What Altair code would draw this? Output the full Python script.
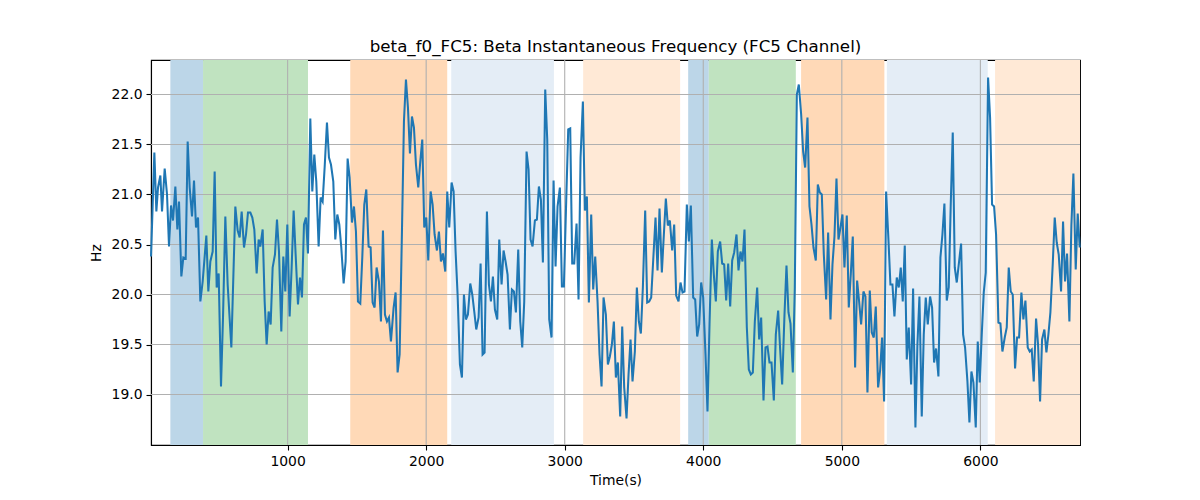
import altair as alt
import pandas as pd

# ---- line series (time in s, frequency in Hz) ----
t1 = [14.2, 38.2, 52.7, 64.7, 81.5, 93.6, 112.8, 129.6, 144.1, 158.5, 172.9, 189.8, 204.2, 216.2, 233.0,
      247.5, 264.3, 278.7, 293.2, 310.0, 324.4, 338.9, 353.3, 370.1, 387.0, 413.4, 427.8, 442.3, 459.1, 473.5,
      488.0, 502.4, 519.2, 533.7, 550.5, 567.3, 593.8, 622.7, 639.5, 653.9, 668.4, 685.2, 699.6, 714.0, 730.9,
      745.3, 759.7, 776.6, 791.0, 803.0, 819.9, 834.3]
v1 = [20.38, 21.42, 20.83, 21.07, 21.19, 20.83, 21.26, 21.0, 20.48, 20.89, 20.74, 21.08, 20.65, 20.93, 20.18,
      20.37, 20.36, 21.53, 21.07, 20.78, 21.14, 20.67, 20.77, 19.93, 20.13, 20.59, 20.03, 20.33, 20.43, 21.23,
      20.07, 20.21, 19.08, 19.77, 20.78, 20.1, 19.47, 20.88, 20.64, 20.57, 20.83, 20.47, 20.6, 20.82, 20.82,
      20.77, 20.65, 20.21, 20.55, 20.48, 20.65, 19.93]

t2 = [848.7, 863.1, 877.6, 892.0, 908.8, 923.3, 937.7, 954.5, 969.0, 983.4, 997.8, 1014.6, 1029.1, 1043.5, 1057.9,
      1074.8, 1089.2, 1103.6, 1118.1, 1132.5, 1146.9, 1163.8, 1178.2, 1192.6, 1207.0, 1223.9, 1238.3, 1252.7,
      1267.2, 1284.0, 1298.4, 1312.9, 1329.7, 1344.1, 1358.6, 1373.0, 1387.4, 1404.3, 1418.7, 1433.1, 1447.5,
      1464.4, 1478.8, 1493.2, 1507.7, 1524.5, 1538.9, 1553.4, 1567.8, 1584.6, 1599.1, 1613.5, 1627.9, 1642.3, 1659.2]
v2 = [19.5, 19.83, 19.7, 20.27, 20.4, 20.75, 20.43, 19.63, 20.38, 20.03, 20.7, 19.78, 20.27, 20.84, 20.4,
      19.9, 20.17, 19.97, 20.7, 20.77, 20.41, 21.76, 21.03, 21.4, 21.13, 20.48, 20.97, 20.93, 21.27, 21.72,
      21.37, 21.3, 21.13, 20.55, 20.8, 20.7, 20.47, 20.11, 20.33, 21.36, 21.17, 20.72, 20.88, 20.63, 19.93,
      19.91, 20.37, 20.9, 21.05, 20.48, 20.47, 19.92, 19.87, 20.27, 20.13]

t3 = [1673.7, 1688.1, 1702.5, 1717.0, 1731.4, 1745.8, 1765.1, 1779.5, 1793.9, 1808.4, 1825.2, 1839.6, 1854.1,
      1868.5, 1882.9, 1897.4, 1911.8, 1926.2, 1943.0, 1957.5, 1971.9, 1986.3, 2000.8, 2015.2, 2032.0, 2046.5,
      2060.9, 2077.7, 2092.2, 2106.6, 2121.0, 2137.9, 2152.3, 2166.7, 2183.5, 2198.0, 2212.4, 2226.8, 2243.7,
      2258.1, 2272.5, 2287.0, 2301.4, 2318.2, 2332.7, 2347.1, 2361.5, 2378.4, 2392.8, 2407.2, 2421.6, 2438.5,
      2452.9, 2467.3, 2481.8]
v3 = [19.73, 20.64, 19.8, 19.73, 19.77, 19.53, 19.87, 20.02, 19.22, 19.4, 20.63, 21.73, 22.15, 21.87, 21.41,
      21.78, 21.67, 21.3, 21.07, 21.33, 21.55, 20.67, 20.77, 20.34, 21.03, 20.9, 20.6, 20.44, 20.63, 20.33,
      20.41, 20.23, 21.03, 20.67, 21.12, 21.03, 20.43, 20.0, 19.3, 19.17, 20.0, 19.75, 19.8, 20.11, 20.0,
      19.83, 19.65, 19.77, 20.31, 19.4, 19.42, 20.83, 20.1, 19.93, 20.18]

t4 = [2496.2, 2513.0, 2527.4, 2544.3, 2558.7, 2573.1, 2587.6, 2604.4, 2618.8, 2633.3, 2647.7, 2664.5, 2679.0,
      2693.4, 2707.8, 2724.6, 2739.1, 2753.5, 2767.9, 2784.8, 2799.2, 2813.6, 2828.1, 2842.5, 2859.3, 2873.8,
      2888.2, 2905.0, 2919.5, 2933.9, 2948.3, 2965.1, 2979.6, 2994.0, 3010.8, 3025.3, 3039.7, 3054.1, 3068.6,
      3085.4, 3099.8, 3114.3, 3131.1, 3145.5, 3159.9, 3174.4, 3191.2, 3205.6, 3220.1, 3236.9, 3251.3, 3265.8,
      3280.2, 3297.0, 3311.5]
v4 = [19.85, 19.75, 20.55, 20.1, 20.44, 20.33, 20.2, 19.65, 20.05, 20.03, 19.82, 20.45, 19.73, 19.47, 19.93,
      21.43, 21.25, 20.55, 20.48, 20.74, 20.75, 21.08, 20.95, 20.32, 22.05, 21.55, 19.75, 19.57, 21.14, 20.28,
      20.88, 21.07, 20.08, 20.08, 20.94, 21.65, 21.66, 20.31, 20.31, 20.71, 19.95, 21.37, 21.93, 20.84, 20.98,
      19.92, 20.8, 20.05, 20.38, 19.93, 19.4, 19.08, 19.97, 19.8, 19.3]

t5 = [3325.9, 3340.3, 3354.7, 3369.2, 3383.6, 3400.4, 3414.9, 3429.3, 3446.1, 3460.6, 3475.0, 3489.4, 3506.2,
      3520.7, 3535.1, 3549.5, 3564.0, 3580.8, 3595.2, 3609.7, 3624.1, 3640.9, 3655.4, 3669.8, 3684.2, 3701.0,
      3715.5, 3729.9, 3744.3, 3758.8, 3775.6, 3790.0, 3804.5, 3821.3, 3835.7, 3850.2, 3864.6, 3881.4, 3895.9,
      3910.3, 3927.1, 3941.6, 3956.0, 3970.4, 3984.8, 3999.3, 4016.1, 4030.5, 4045.0, 4061.8, 4076.2, 4090.7,
      4105.1, 4121.9, 4136.4, 4150.8]
v5 = [19.38, 19.5, 19.73, 19.17, 19.32, 18.78, 19.68, 19.07, 18.76, 19.2, 19.55, 19.13, 19.43, 20.07, 19.73,
      19.61, 20.07, 20.84, 19.92, 19.93, 19.97, 20.4, 20.77, 20.24, 20.86, 20.22, 20.6, 20.96, 20.69, 20.74,
      20.44, 20.7, 19.99, 19.93, 20.12, 20.02, 20.03, 20.9, 20.53, 20.89, 19.97, 19.95, 19.58, 19.7, 20.12,
      19.97, 19.4, 18.83, 19.7, 20.55, 20.2, 19.93, 20.43, 20.53, 20.31, 20.3]

t6 = [4165.3, 4179.7, 4194.2, 4208.6, 4223.0, 4239.8, 4254.3, 4268.7, 4283.1, 4297.6, 4314.4, 4328.8, 4343.3,
      4357.7, 4372.1, 4389.0, 4403.4, 4417.8, 4434.7, 4449.1, 4463.5, 4477.9, 4492.4, 4509.2, 4523.6, 4540.5,
      4554.9, 4569.3, 4586.2, 4600.6, 4615.0, 4629.5, 4646.3, 4660.7, 4675.2, 4689.6, 4706.4, 4720.8, 4735.3,
      4752.1, 4766.5, 4781.0, 4795.4, 4812.2, 4826.7, 4841.1, 4855.5, 4870.0, 4886.8, 4901.2, 4918.1, 4932.5,
      4946.9, 4961.4, 4975.8]
v6 = [19.94, 20.31, 19.88, 20.34, 20.42, 20.6, 20.24, 20.43, 20.33, 20.65, 19.67, 19.25, 19.2, 19.22, 19.73,
      20.07, 19.55, 19.77, 18.94, 19.47, 19.48, 19.32, 19.32, 18.94, 19.6, 19.84, 19.45, 19.1, 19.8, 20.29,
      19.82, 19.71, 19.22, 20.07, 22.0, 22.1, 21.8, 21.43, 21.27, 21.77, 20.88, 20.7, 20.47, 20.34, 21.1,
      21.02, 21.0, 20.4, 19.95, 20.62, 19.75, 20.3, 20.58, 21.16, 20.55]

t7 = [4990.1, 5004.5, 5018.9, 5035.8, 5050.2, 5064.6, 5079.1, 5095.9, 5110.3, 5124.8, 5139.2, 5156.0, 5170.5,
      5184.9, 5201.7, 5216.2, 5230.6, 5245.0, 5261.9, 5276.3, 5290.7, 5305.1, 5319.6, 5336.4, 5350.8, 5365.3,
      5379.7, 5396.5, 5411.0, 5425.4, 5439.8, 5454.3, 5468.7, 5483.1, 5500.0, 5514.4, 5531.2, 5545.6, 5560.1,
      5576.9, 5591.3, 5605.8, 5620.2, 5637.0, 5651.5, 5665.9, 5680.3, 5697.2, 5711.6, 5726.0, 5740.4, 5757.3,
      5771.7, 5786.1, 5800.6]
v7 = [20.67, 20.8, 20.27, 20.79, 19.87, 20.2, 20.58, 19.27, 20.14, 19.93, 19.7, 20.03, 19.98, 19.02, 20.04,
      19.62, 19.57, 19.88, 19.07, 19.24, 19.57, 18.93, 21.03, 20.55, 20.1, 20.1, 19.78, 20.17, 20.07, 20.27,
      19.93, 20.49, 19.35, 19.67, 19.1, 20.06, 18.67, 19.5, 19.98, 18.78, 19.6, 19.97, 19.7, 19.98, 19.87,
      19.32, 19.46, 19.18, 20.37, 20.6, 20.91, 19.94, 20.07, 20.9, 21.62]

t8 = [5815.1, 5829.5, 5846.3, 5860.8, 5875.2, 5889.6, 5906.5, 5920.9, 5935.3, 5949.8, 5966.6, 5981.0, 5995.4,
      6009.9, 6024.3, 6038.7, 6055.6, 6070.0, 6084.4, 6098.9, 6113.3, 6130.1, 6144.6, 6159.0, 6175.8, 6190.3,
      6204.7, 6219.1, 6233.5, 6250.4, 6264.8, 6279.2, 6296.1, 6310.5, 6325.0, 6341.8, 6356.2, 6370.6, 6385.1,
      6401.9, 6416.3, 6430.8, 6445.2, 6462.0, 6476.5, 6490.9, 6505.3, 6522.1, 6536.6, 6551.0, 6565.4, 6582.3,
      6596.7, 6611.1, 6625.6, 6642.4, 6656.8, 6671.3, 6688.1, 6702.5, 6717.0]
v8 = [20.27, 20.12, 20.33, 20.51, 19.6, 19.47, 19.13, 18.72, 19.23, 19.12, 18.67, 19.53, 19.12, 19.6, 20.02,
      20.22, 22.17, 21.77, 20.9, 20.88, 20.6, 19.72, 19.71, 19.43, 19.57, 19.67, 20.27, 20.03, 20.0, 19.26,
      19.57, 19.57, 20.02, 19.75, 19.94, 19.47, 19.43, 19.45, 19.13, 19.76, 19.5, 18.93, 19.55, 19.65, 19.42,
      19.6, 19.82, 20.3, 20.77, 20.52, 20.4, 20.03, 20.73, 20.13, 20.41, 19.73, 20.69, 21.21, 20.25, 20.81, 20.47]

# ---- shaded state intervals ----
span_start = [153.7, 389.6, 1452, 2181, 3133, 3891, 4040, 4706, 5325, 6106]
span_end = [389.6, 1147, 2152, 2922, 3833, 4040, 4668, 5307, 6053, 6719]
span_kind = ["blue", "green", "orange", "lightblue", "lightorange",
             "blue", "green", "orange", "lightblue", "lightorange"]
kind_names = ["blue", "green", "orange", "lightblue", "lightorange"]
kind_colors = ["#bcd6e8", "#c0e3c0", "#ffd9b7", "#e4edf6", "#ffe9d6"]

# ---- axis ticks ----
x_ticks = [1000, 2000, 3000, 4000, 5000, 6000]
y_ticks = [19.0, 19.5, 20.0, 20.5, 21.0, 21.5, 22.0]
x_domain = [14, 6719]
y_domain = [18.495, 22.345]

times = t1 + t2 + t3 + t4 + t5 + t6 + t7 + t8
vals = v1 + v2 + v3 + v4 + v5 + v6 + v7 + v8
n = min(len(times), len(vals))
line_df = pd.DataFrame({"t": times[:n], "hz": vals[:n]})
span_df = pd.DataFrame({"start": span_start, "end": span_end, "kind": span_kind})
gx_df = pd.DataFrame({"gx": x_ticks})
gy_df = pd.DataFrame({"gy": y_ticks})

FONT = "DejaVu Sans"
xs = alt.Scale(domain=x_domain, nice=False, zero=False)
ys = alt.Scale(domain=y_domain, nice=False, zero=False)
x_axis = alt.Axis(values=x_ticks, format="d", grid=False, tickSize=5, labelPadding=4,
                  titlePadding=6, labelFlush=False)
y_axis = alt.Axis(values=y_ticks, format=".1f", grid=False, tickSize=5, labelPadding=4,
                  titlePadding=8)

spans = alt.Chart(span_df).mark_rect().encode(
    x=alt.X("start:Q", scale=xs, axis=x_axis, title="Time(s)"),
    x2="end:Q",
    color=alt.Color("kind:N", scale=alt.Scale(domain=kind_names, range=kind_colors), legend=None),
)

gridx = alt.Chart(gx_df).mark_rule(color="#b0b0b0", strokeWidth=1.1).encode(
    x=alt.X("gx:Q", scale=xs, axis=x_axis, title="Time(s)")
)
gridy = alt.Chart(gy_df).mark_rule(color="#b0b0b0", strokeWidth=1.1).encode(
    y=alt.Y("gy:Q", scale=ys, axis=y_axis, title="Hz")
)

line = alt.Chart(line_df).mark_line(color="#1f77b4", strokeWidth=2.05).encode(
    x=alt.X("t:Q", scale=xs, title="Time(s)", axis=x_axis),
    y=alt.Y("hz:Q", scale=ys, title="Hz", axis=y_axis),
)

chart = alt.layer(spans, gridx, gridy, line).properties(
    width=929,
    height=385,
    autosize="none",
    padding={"left": 143, "top": 52, "right": 112, "bottom": 50},
    title=alt.TitleParams(
        "beta_f0_FC5: Beta Instantaneous Frequency (FC5 Channel)",
        font=FONT, fontSize=16.7, fontWeight="normal", color="black",
        anchor="middle", offset=4,
    ),
).configure_view(
    stroke="black", strokeWidth=1.1
).configure_axis(
    labelFont=FONT, titleFont=FONT, labelFontSize=13.9, titleFontSize=13.9,
    titleFontWeight="normal", labelColor="black", titleColor="black",
    domainColor="black", tickColor="black", domainWidth=1.1, tickWidth=1.1,
)

chart.save("out.html", embed_options={"renderer": "svg", "actions": False})
